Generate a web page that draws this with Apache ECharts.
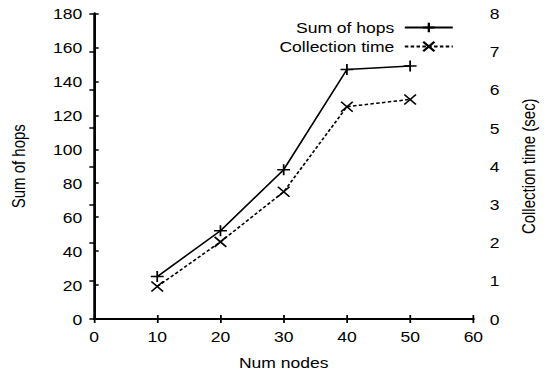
<!DOCTYPE html>
<html>
<head>
<meta charset="utf-8">
<script src="https://cdn.jsdelivr.net/npm/echarts@6/dist/echarts.min.js"></script>
<style>
html,body{margin:0;padding:0;background:#fff;}
#wrap{width:547px;height:375px;overflow:hidden;position:relative;}
#c{width:468px;height:375px;transform-origin:0 0;}
</style>
</head>
<body>
<div id="wrap"><div id="c"></div></div>
<script>
// Data
var nodes = [10, 20, 30, 40, 50];
var sumOfHops = [25, 52, 88, 147, 149];
var collectionTime = [0.85, 2.02, 3.33, 5.56, 5.75];
var seriesNames = ['Sum of hops', 'Collection time'];
var xTitle = 'Num nodes';
var yTitle = 'Sum of hops';
var y2Title = 'Collection time (sec)';

var S = 547 / 468;
document.getElementById('c').style.transform = 'scaleX(' + S + ')';

var FONT = 'Liberation Sans, Arial, Helvetica, sans-serif';
var txt = {color: '#000', fontFamily: FONT, fontSize: 15};
var axLine = {show: true, lineStyle: {color: '#000', width: 2}};
var tick = {show: true, inside: true, length: 4, lineStyle: {color: '#000', width: 1.5}};

var plusPath = 'path://M0,5L10,5M5,0L5,10';
var crossPath = 'path://M0,0L10,10M10,0L0,10';

var chart = echarts.init(document.getElementById('c'), null, {renderer: 'svg'});
chart.setOption({
  animation: false,
  backgroundColor: '#fff',
  textStyle: {fontFamily: FONT},
  grid: {left: 94 / S, right: (547 - 475.5) / S, top: 13.5, bottom: 56, containLabel: false},
  legend: {
    orient: 'vertical',
    align: 'right',
    right: (547 - 454) / S,
    top: 20,
    padding: 0,
    itemWidth: 48 / S,
    itemHeight: 12,
    itemGap: 4,
    textStyle: {color: '#000', fontFamily: FONT, fontSize: 15, padding: [0, 4, 0, 0]},
    data: seriesNames
  },
  xAxis: [{
    type: 'value', min: 0, max: 60, interval: 10, position: 'bottom',
    name: xTitle, nameLocation: 'middle', nameGap: 36, nameTextStyle: txt,
    axisLine: axLine, axisTick: tick, splitLine: {show: false},
    axisLabel: Object.assign({margin: 10}, txt)
  }, {
    type: 'value', min: 0, max: 60, interval: 10, position: 'top',
    axisLine: axLine, axisTick: tick, splitLine: {show: false},
    axisLabel: {show: false}
  }],
  yAxis: [{
    type: 'value', min: 0, max: 180, interval: 20, position: 'left',
    name: yTitle, nameLocation: 'middle', nameGap: 57, nameTextStyle: txt,
    axisLine: axLine, axisTick: tick, splitLine: {show: false},
    axisLabel: Object.assign({margin: 10}, txt)
  }, {
    type: 'value', min: 0, max: 8, interval: 1, position: 'right',
    name: y2Title, nameLocation: 'middle', nameGap: 40, nameTextStyle: txt,
    axisLine: axLine, axisTick: tick, splitLine: {show: false},
    axisLabel: Object.assign({margin: 14}, txt)
  }],
  series: [{
    name: seriesNames[0], type: 'line', xAxisIndex: 0, yAxisIndex: 0,
    data: nodes.map(function (x, i) { return [x, sumOfHops[i]]; }),
    symbol: plusPath, symbolSize: 11, showAllSymbol: true,
    lineStyle: {color: '#000', width: 1.5, type: 'solid'},
    itemStyle: {color: '#000', borderColor: '#000', borderWidth: 1.5}
  }, {
    name: seriesNames[1], type: 'line', xAxisIndex: 0, yAxisIndex: 1,
    data: nodes.map(function (x, i) { return [x, collectionTime[i]]; }),
    symbol: crossPath, symbolSize: 10, showAllSymbol: true,
    lineStyle: {color: '#000', width: 1.5, type: [3, 2]},
    itemStyle: {color: '#000', borderColor: '#000', borderWidth: 1.5}
  }]
});
</script>
</body>
</html>
